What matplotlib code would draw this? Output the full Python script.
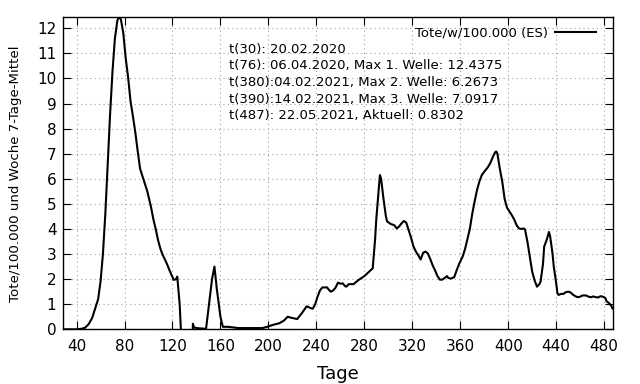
import numpy as np
import matplotlib
matplotlib.use("Agg")
import matplotlib.pyplot as plt

# Tage (t) und Tote/w/100.000, 7-Tage-Mittel (Spanien)
tage = [29, 35, 40, 44, 47, 50, 53, 56, 58, 60, 62, 64, 66, 68, 70, 72, 74, 75, 76, 77,
        79, 81, 83, 85, 87, 89, 91, 93, 96, 99, 102, 104, 106, 108, 110, 112, 115, 118, 121, 123,
        124, 126, 128, 130, 134, 136, 137, 138, 140, 148, 150, 153, 155, 157, 160, 162, 166, 170, 175, 190,
        195, 199, 204, 209, 213, 216, 220, 224, 228, 232, 235, 237, 239, 241, 243, 245, 249, 250, 252, 254,
        256, 258, 260, 262, 264, 265, 267, 271, 275, 280, 284, 287, 289, 290, 292, 293, 294, 296, 298, 299,
        302, 305, 307, 309, 311, 313, 315, 317, 319, 321, 323, 325, 327, 329, 331, 333, 335, 337, 339, 341,
        343, 345, 347, 349, 350, 352, 355, 357, 359, 362, 364, 366, 368, 370, 372, 374, 376, 378, 380, 383,
        385, 387, 389, 390, 391, 393, 395, 397, 399, 401, 403, 405, 407, 409, 411, 413, 414, 416, 418, 420,
        422, 424, 426, 427, 429, 430, 432, 434, 435, 437, 438, 440, 441, 442, 444, 446, 448, 450, 452, 454,
        456, 458, 460, 462, 465, 467, 469, 471, 473, 475, 477, 479, 481, 482, 484, 486, 487]
tote = [0.0, 0.0, 0.0, 0.02, 0.06, 0.2, 0.45, 0.9, 1.2, 1.9, 3.0, 4.6, 6.6, 8.6, 10.3, 11.6, 12.3, 12.42, 12.4375, 12.35,
        11.8, 10.8, 10.05, 9.1, 8.5, 7.85, 7.1, 6.4, 5.95, 5.5, 4.9, 4.4, 4.0, 3.55, 3.2, 2.95, 2.65, 2.3, 1.97, 2.0,
        2.1, 1.0, -1.0, -3.0, -3.0, -8.0, 0.22, 0.08, 0.05, 0.02, 0.8, 2.0, 2.5, 1.6, 0.5, 0.1, 0.1, 0.08, 0.05, 0.05,
        0.05, 0.1, 0.18, 0.24, 0.35, 0.5, 0.45, 0.41, 0.65, 0.92, 0.85, 0.82, 1.0, 1.3, 1.55, 1.67, 1.67, 1.6, 1.5, 1.55,
        1.66, 1.86, 1.82, 1.83, 1.72, 1.7, 1.8, 1.8, 1.96, 2.12, 2.3, 2.43, 3.6, 4.4, 5.6, 6.15, 6.0, 5.2, 4.5, 4.3,
        4.2, 4.15, 4.02, 4.1, 4.22, 4.32, 4.25, 3.95, 3.65, 3.3, 3.1, 2.95, 2.78, 3.05, 3.1, 3.02, 2.8, 2.55, 2.35, 2.12,
        1.98, 1.98, 2.05, 2.12, 2.05, 2.02, 2.08, 2.35, 2.6, 2.9, 3.2, 3.6, 4.0, 4.6, 5.1, 5.55, 5.9, 6.15, 6.28, 6.46,
        6.62, 6.85, 7.05, 7.09, 7.0, 6.4, 5.9, 5.2, 4.85, 4.7, 4.55, 4.38, 4.15, 4.02, 4.0, 4.02, 3.98, 3.5, 2.9, 2.3,
        1.95, 1.7, 1.8, 1.9, 2.6, 3.3, 3.55, 3.88, 3.7, 3.0, 2.5, 1.85, 1.45, 1.37, 1.41, 1.41, 1.48, 1.5, 1.47, 1.38,
        1.32, 1.28, 1.3, 1.35, 1.35, 1.3, 1.28, 1.31, 1.28, 1.27, 1.32, 1.3, 1.25, 1.12, 1.05, 0.93, 0.8302]

infotext = ["t(30): 20.02.2020",
            "t(76): 06.04.2020, Max 1. Welle: 12.4375",
            "t(380):04.02.2021, Max 2. Welle: 6.2673",
            "t(390):14.02.2021, Max 3. Welle: 7.0917",
            "t(487): 22.05.2021, Aktuell: 0.8302"]

xticks = np.arange(40, 481, 40)
yticks = np.arange(0, 13, 1)

fig = plt.figure(figsize=(6.4, 3.84), dpi=100)
ax = fig.add_axes([0.099, 0.1424, 0.859, 0.8126])

ax.plot(tage, tote, color="black", lw=1.5, label="Tote/w/100.000 (ES)")

ax.set_xlim(29, 487.5)
ax.set_ylim(0, 12.4375)
ax.set_xticks(xticks)
ax.set_yticks(yticks)
ax.tick_params(direction="in", length=5.5, width=0.8, top=True, right=True,
               labelsize=11, pad=5)
ax.tick_params(axis="x", pad=7)
ax.grid(True, color="#a0a0a0", linestyle=(0, (1, 3)), linewidth=0.8)
for s in ax.spines.values():
    s.set_linewidth(1.0)

ax.set_xlabel("Tage", fontsize=13, labelpad=8)
ax.set_ylabel("Tote/100.000 und Woche 7-Tage-Mittel", fontsize=9.6, labelpad=11)

for i, line in enumerate(infotext):
    ax.text(167.3, 11.16 - i * 0.663, line, fontsize=9.5, va="center", ha="left")

ax.legend(loc="upper right", frameon=False, markerfirst=False, handlelength=3.1,
          handletextpad=0.5, fontsize=9.5, bbox_to_anchor=(0.985, 1.0), borderaxespad=0.3)

fig.savefig("out.png", dpi=100)
